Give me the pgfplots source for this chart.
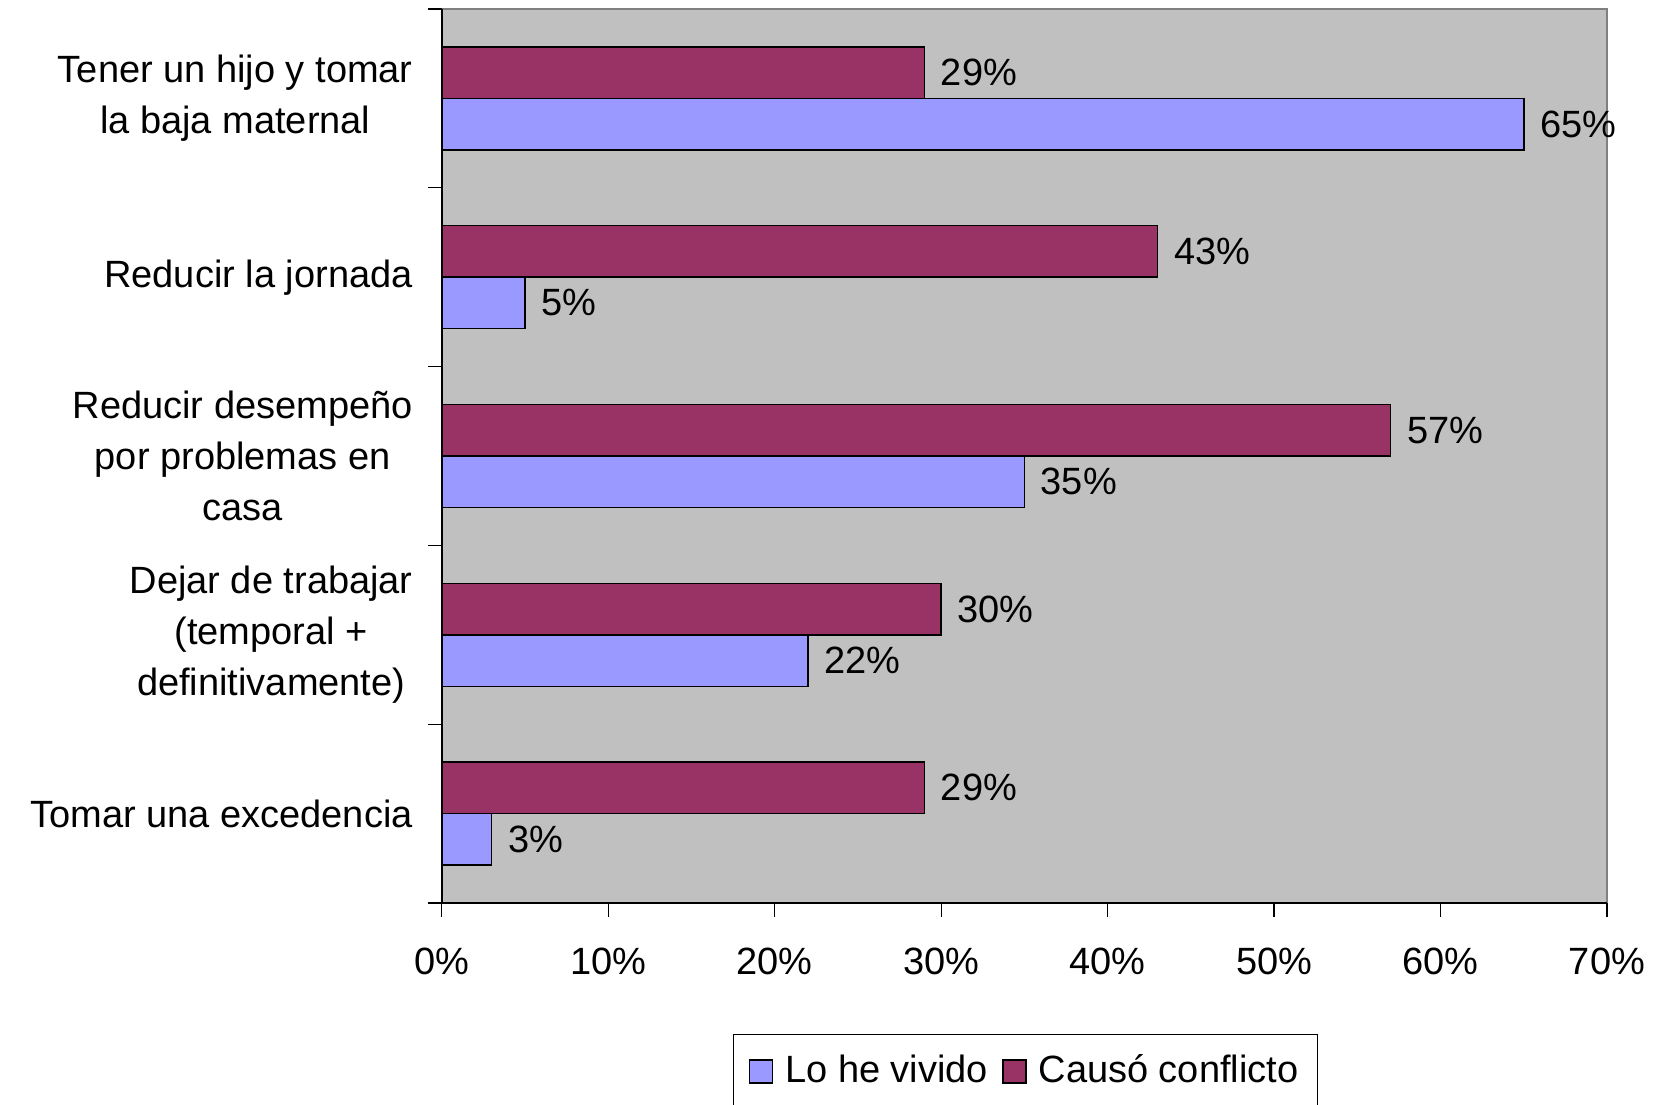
\documentclass[border=0pt]{standalone}
\usepackage{fontspec}
\setmainfont{Liberation Sans}
\usepackage{pgfplots}
\pgfplotsset{compat=1.18}
\definecolor{bblue}{HTML}{9999FF}
\definecolor{bmaroon}{HTML}{993366}
\definecolor{bgray}{HTML}{C0C0C0}
\newcommand{\bigf}{\fontsize{19}{25.4}\selectfont}
\begin{document}
\bigf
\begin{tikzpicture}
\path[use as bounding box] (0,0) rectangle (829pt,552pt);
\begin{axis}[
  at={(220.85pt,100.5pt)}, anchor=south west,
  scale only axis, width=582.65pt, height=447pt,
  xbar, bar width=25.75pt,
  xmin=0, xmax=70, ymin=-0.5, ymax=4.5,
  clip=false,
  axis background/.style={fill=bgray, draw=gray, line width=0.6pt},
  axis x line*=bottom, axis y line*=left,
  axis line style={black, line width=0.8pt},
  xtick={0,10,...,70},
  xticklabels={0\%,10\%,20\%,30\%,40\%,50\%,60\%,70\%},
  ytick={0,1,2,3,4},
  yticklabels={Tomar una excedencia,{Dejar de trabajar\\(temporal +\\definitivamente)},{Reducir desempeño\\por problemas en\\casa},Reducir la jornada,{Tener un hijo y tomar\\la baja maternal}},
  minor ytick={-0.5,0.5,1.5,2.5,3.5,4.5},
  tick align=outside,
  major tick length=7pt, minor tick length=7pt,
  tick style={black, line width=0.6pt},
  major y tick style={draw=none},
  xticklabel style={font=\bigf, anchor=base, inner sep=0pt, yshift=-28.5pt},
  yticklabel style={font=\bigf, align=center, anchor=east, inner sep=0pt, xshift=-7.3pt},
  /pgf/number format/assume math mode=true,
  point meta=x,
  nodes near coords={\pgfmathprintnumber{\pgfplotspointmeta}\%},
  every node near coord/.append style={font=\bigf, text=black, anchor=west, xshift=1.5pt},
  legend columns=-1,
  legend style={at={(0.501,-0.1465)}, anchor=north, draw=black, line width=0.6pt,
    font=\bigf, inner xsep=7.5pt, inner ysep=8pt,
    /tikz/every odd column/.append style={column sep=4pt},
    /tikz/every even column/.append style={column sep=5pt}},
  legend image code/.code={\draw[#1, draw=black, line width=0.8pt] (0pt,-5.75pt) rectangle (11.5pt,5.75pt);},
]
\addplot[fill=bblue, draw=black, line width=0.8pt, bar shift=-12.875pt]
  coordinates {(3,0) (22,1) (35,2) (5,3) (65,4)};
\addplot[fill=bmaroon, draw=black, line width=0.8pt, bar shift=12.875pt]
  coordinates {(29,0) (30,1) (57,2) (43,3) (29,4)};
\legend{Lo he vivido, Causó conflicto}
\end{axis}
\end{tikzpicture}
\end{document}
